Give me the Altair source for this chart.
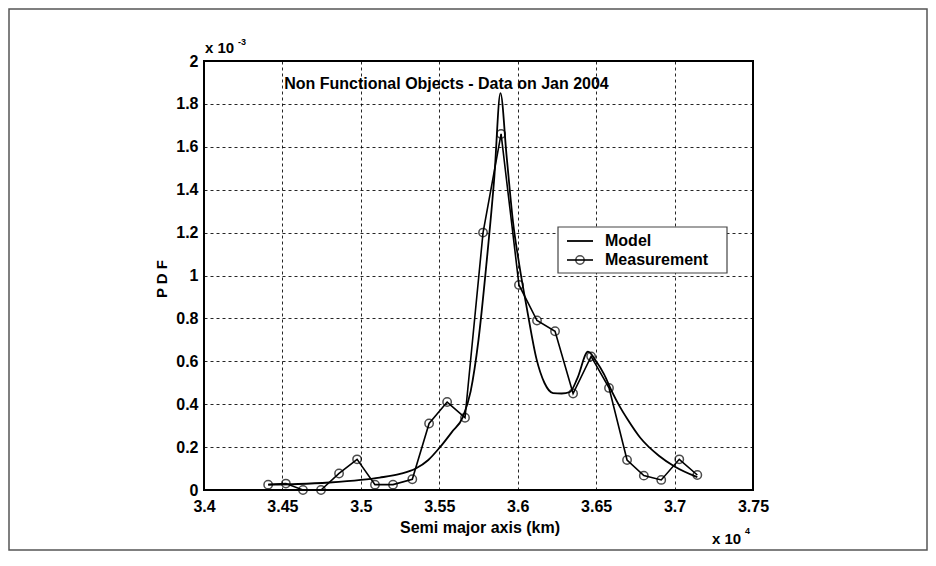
import altair as alt
import pandas as pd

# ---- data (x in units of 1e4 km, y in units of 1e-3) ----
meas_x = [3.4409, 3.4522, 3.4631, 3.4746, 3.4861, 3.4976, 3.5090, 3.5205, 3.5328,
          3.5435, 3.5550, 3.5664, 3.5779, 3.5894, 3.6008, 3.6123, 3.6238, 3.6353,
          3.6468, 3.6582, 3.6697, 3.6804, 3.6915, 3.7030, 3.7145]
meas_y = [0.025, 0.030, 0.000, 0.000, 0.077, 0.143, 0.025, 0.025, 0.050,
          0.310, 0.410, 0.337, 1.200, 1.660, 0.956, 0.790, 0.740, 0.450,
          0.623, 0.476, 0.140, 0.067, 0.047, 0.143, 0.070]

model_x = [3.441, 3.460, 3.480, 3.500, 3.512, 3.525, 3.535, 3.543, 3.5505, 3.558,
           3.565, 3.570, 3.575, 3.580, 3.585, 3.589, 3.593, 3.597, 3.601, 3.606,
           3.612, 3.617, 3.6225, 3.628, 3.6333, 3.638, 3.6448, 3.650, 3.655, 3.660,
           3.665, 3.670, 3.678, 3.690, 3.700, 3.7145]
model_y = [0.025, 0.028, 0.035, 0.047, 0.058, 0.075, 0.100, 0.140, 0.200, 0.270,
           0.340, 0.460, 0.700, 1.050, 1.450, 1.850, 1.550, 1.250, 1.050, 0.840,
           0.610, 0.500, 0.452, 0.450, 0.457, 0.520, 0.645, 0.600, 0.540, 0.460,
           0.390, 0.330, 0.245, 0.160, 0.110, 0.060]

x_ticks = [3.4, 3.45, 3.5, 3.55, 3.6, 3.65, 3.7, 3.75]
y_ticks = [0, 0.2, 0.4, 0.6, 0.8, 1.0, 1.2, 1.4, 1.6, 1.8, 2.0]

title_text = "Non Functional Objects - Data on Jan 2004"
x_title = "Semi major axis (km)"
y_title = "P D F"
legend_labels = ["Model", "Measurement"]

FONT = "Liberation Sans"

meas_df = pd.DataFrame({"x": meas_x, "y": meas_y})
model_df = pd.DataFrame({"x": model_x, "y": model_y})

xscale = alt.Scale(domain=[3.4, 3.75], nice=False, zero=False)
yscale = alt.Scale(domain=[0, 2], nice=False, zero=False)

xaxis = alt.Axis(values=x_ticks, format=".3~g", title=None, grid=True, labelFlush=False,
                 labelOverlap=False, tickSize=0, labelPadding=8, domain=False)
yaxis = alt.Axis(values=y_ticks, format=".2~g", title=None, grid=True, labelFlush=False,
                 labelOverlap=False, tickSize=0, labelPadding=6, domain=False)

model = alt.Chart(model_df).mark_line(color="black", strokeWidth=1.8, interpolate="monotone",
                                      clip=False).encode(
    x=alt.X("x:Q", scale=xscale, axis=xaxis),
    y=alt.Y("y:Q", scale=yscale, axis=yaxis),
)
meas_line = alt.Chart(meas_df).mark_line(color="black", strokeWidth=1.6, clip=False).encode(
    x=alt.X("x:Q", scale=xscale), y=alt.Y("y:Q", scale=yscale))
meas_pts = alt.Chart(meas_df).mark_point(shape="circle", filled=False, color="black", size=70,
                                         strokeWidth=1.5, clip=False).encode(
    x=alt.X("x:Q", scale=xscale), y=alt.Y("y:Q", scale=yscale))

one = alt.Data(values=[{}])

def txt(text, x, y, size, align="left", baseline="middle", angle=0, weight="bold"):
    kw = dict(text=text, font=FONT, fontSize=size, fontWeight=weight, align=align,
              baseline=baseline, color="black")
    if angle:
        kw["angle"] = angle
    return alt.Chart(one).mark_text(**kw).encode(x=alt.value(x), y=alt.value(y))

# outer frame of the picture
frame = alt.Chart(one).mark_rect(fill=None, stroke="#555", strokeWidth=1.5).encode(
    x=alt.value(-195), x2=alt.value(723), y=alt.value(-52), y2=alt.value(489))

# legend box
leg_box = alt.Chart(one).mark_rect(fill="white", stroke="#444", strokeWidth=1.2).encode(
    x=alt.value(354), x2=alt.value(523), y=alt.value(166), y2=alt.value(212))
leg_l1 = alt.Chart(one).mark_rule(color="black", strokeWidth=1.8).encode(
    x=alt.value(363), x2=alt.value(389), y=alt.value(180))
leg_l2 = alt.Chart(one).mark_rule(color="black", strokeWidth=1.6).encode(
    x=alt.value(363), x2=alt.value(389), y=alt.value(199))
leg_pt = alt.Chart(one).mark_point(shape="circle", filled=False, color="black", size=70,
                                   strokeWidth=1.5).encode(x=alt.value(376), y=alt.value(199))

texts = [
    txt(title_text, 242.5, 23, 16, align="center"),
    txt(legend_labels[0], 401, 180, 16),
    txt(legend_labels[1], 401, 199, 16),
    txt(x_title, 276, 467, 16, align="center"),
    txt(y_title, -42, 218, 15, align="center", angle=270),
    txt("x 10", 1, -8, 15, baseline="alphabetic"),
    txt("-3", 34, -16, 9, baseline="alphabetic"),
    txt("x 10", 508, 483, 15, baseline="alphabetic"),
    txt("4", 541, 473, 9, baseline="alphabetic"),
]

chart = alt.layer(model, meas_line, meas_pts, frame, leg_box, leg_l1, leg_l2, leg_pt, *texts).properties(
    width=549, height=429,
    autosize=alt.AutoSizeParams(type="none"),
    padding={"left": 196, "top": 53, "right": 175, "bottom": 62},
    background="white",
).configure_view(stroke="black", strokeWidth=2).configure_axis(
    labelFont=FONT, labelFontSize=16, labelFontWeight="bold", labelColor="black",
    gridColor="black", gridDash=[3, 3], gridWidth=1, gridOpacity=0.85,
)

chart.save("out.html", embed_options={"renderer": "svg", "actions": False})
